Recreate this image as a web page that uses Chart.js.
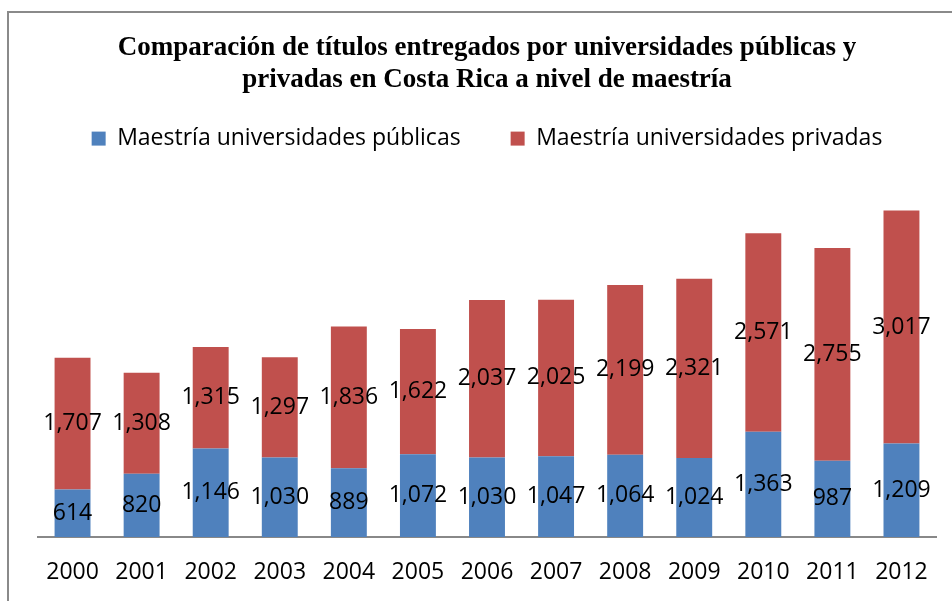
<!DOCTYPE html>
<html>
<head>
<meta charset="utf-8">
<script src="https://cdn.jsdelivr.net/npm/chart.js@4.4.1/dist/chart.umd.min.js"></script>
<style>
  html, body { margin: 0; padding: 0; background: #fff; }
  #wrap { position: relative; width: 952px; height: 601px; }
  #frame { position: absolute; left: 7px; top: 11px; right: -4px; bottom: -4px;
           border-top: 2px solid #8a8a8a; border-left: 2px solid #8a8a8a; pointer-events: none; }
  canvas { position: absolute; left: 0; top: 0; }
</style>
</head>
<body>
<div id="wrap">
  <canvas id="chart" width="952" height="601"></canvas>
  <div id="frame"></div>
</div>
<script>
// data
const years = ['2000', '2001', '2002', '2003', '2004', '2005', '2006',
               '2007', '2008', '2009', '2010', '2011', '2012'];
const publicas = [614, 820, 1146, 1030, 889, 1072, 1030, 1047, 1064, 1024, 1363, 987, 1209];
const privadas = [1707, 1308, 1315, 1297, 1836, 1622, 2037, 2025, 2199, 2321, 2571, 2755, 3017];
const seriesNames = ['Maestría universidades públicas', 'Maestría universidades privadas'];
const titleLines = ['Comparación de títulos entregados por universidades públicas y',
                    'privadas en Costa Rica a nivel de maestría'];

const SANS = '"Open Sans", Lato, "DejaVu Sans", sans-serif';

// value labels in the middle of every stacked segment
const segmentLabels = {
  id: 'segmentLabels',
  afterDatasetsDraw(chart) {
    const ctx = chart.ctx;
    ctx.save();
    ctx.font = '23px ' + SANS;
    ctx.fillStyle = '#000';
    ctx.textAlign = 'center';
    ctx.textBaseline = 'middle';
    chart.data.datasets.forEach((ds, i) => {
      const meta = chart.getDatasetMeta(i);
      meta.data.forEach((bar, j) => {
        const y = (bar.y + bar.base) / 2;
        ctx.fillText(ds.data[j].toLocaleString('en-US'), bar.x, y);
      });
    });
    ctx.restore();
  }
};

new Chart(document.getElementById('chart'), {
  type: 'bar',
  data: {
    labels: years,
    datasets: [
      { label: seriesNames[0], data: publicas, backgroundColor: '#4f81bd' },
      { label: seriesNames[1], data: privadas, backgroundColor: '#c0504d' }
    ]
  },
  options: {
    responsive: false,
    animation: false,
    layout: { padding: { left: 38, right: 16, top: 0, bottom: 16 } },
    datasets: { bar: { barPercentage: 0.52, categoryPercentage: 1 } },
    plugins: {
      title: {
        display: true,
        text: titleLines,
        color: '#000',
        font: { family: '"Liberation Serif", "DejaVu Serif", serif', size: 27, weight: 'bold', lineHeight: 1.15 },
        padding: { top: 33, bottom: -18 }
      },
      legend: {
        display: true,
        labels: {
          color: '#000',
          font: { family: SANS, size: 23 },
          boxWidth: 14,
          boxHeight: 14,
          padding: 50
        }
      },
      tooltip: { enabled: false }
    },
    scales: {
      x: {
        stacked: true,
        grid: { display: false, drawTicks: false },
        border: { display: true, color: '#888', width: 2 },
        ticks: { color: '#000', font: { family: SANS, size: 23 }, padding: 22 },
        afterFit(scale) { scale.height = 48; }
      },
      y: {
        stacked: true,
        display: false,
        min: 0,
        max: 4880
      }
    }
  },
  plugins: [segmentLabels]
});
</script>
</body>
</html>
